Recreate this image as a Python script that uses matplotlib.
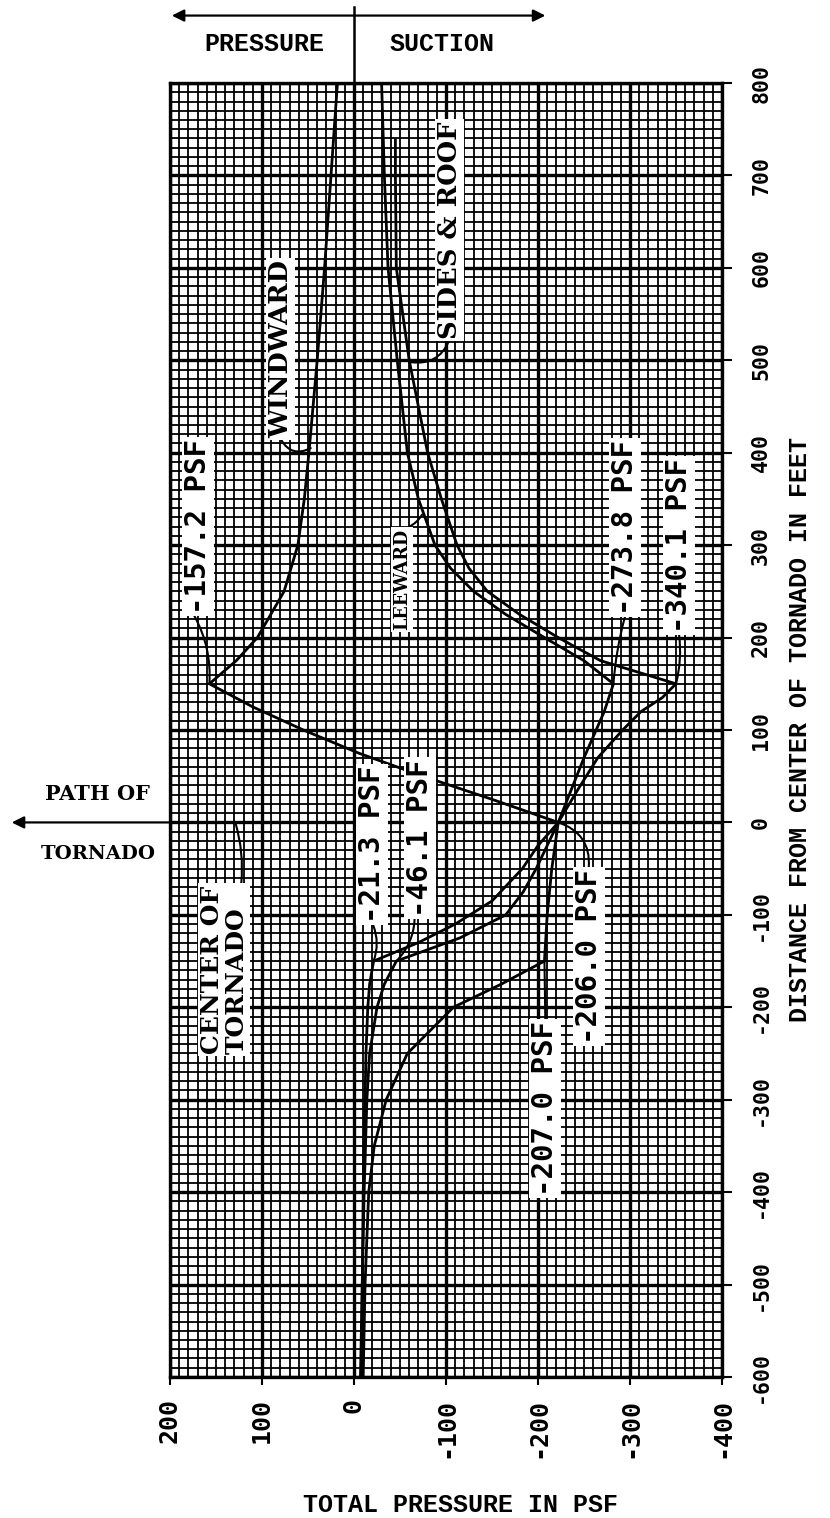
import matplotlib
matplotlib.use("Agg")
import matplotlib.pyplot as plt
from matplotlib.ticker import MultipleLocator

# -----------------------------
#  Curves (distance in ft, total pressure in psf)
# -----------------------------
windward_d = [800, 700, 600, 500, 400, 350, 300, 250, 200, 175, 150, 125, 100,
              75, 50, 25, 0, -50, -100, -150, -175, -200, -250, -300, -350,
              -400, -500, -600]
windward_p = [18, 25, 32, 40, 49, 54, 61, 76, 105, 128, 157.2, 110, 55,
              -5, -75, -150, -222, -215, -210, -207, -160, -108, -58, -35, -22,
              -16, -12, -10]

leeward_d = [800, 700, 600, 500, 400, 350, 300, 275, 250, 225, 200, 175, 150,
             120, 70, 0, -25, -50, -75, -100, -125, -150, -175, -200, -250,
             -300, -400, -500, -600]
leeward_p = [-30, -33, -37, -47, -58, -70, -88, -105, -130, -165, -207, -250, -282,
             -272, -250, -222, -210, -198, -184, -165, -115, -46.1, -33, -25, -17,
             -14, -11, -9, -7]

sides_d = [738, 700, 600, 500, 400, 350, 300, 275, 250, 225, 200, 175, 150,
           135, 120, 100, 70, 35, 0, -25, -50, -85, -110, -130, -150, -175,
           -200, -250, -300, -400, -500, -600]
sides_p = [-45, -45, -46, -60, -80, -95, -112, -125, -145, -180, -222, -268, -350,
           -335, -312, -292, -265, -243, -222, -200, -183, -150, -110, -70, -21.3, -17,
           -15, -13, -12, -10, -9, -8]

x_ticks = [200, 100, 0, -100, -200, -300, -400]
y_ticks = [800, 700, 600, 500, 400, 300, 200, 100, 0, -100, -200, -300, -400, -500, -600]

mono = "DejaVu Sans Mono"
typew = "Liberation Mono"
serif = "DejaVu Serif"

fig = plt.figure(figsize=(8.3, 15.18), dpi=100)
ax = fig.add_axes([0.2048, 0.0929, 0.6651, 0.8524])

ax.set_xlim(200, -400)
ax.set_ylim(-600, 800)

# graph paper
ax.xaxis.set_minor_locator(MultipleLocator(10))
ax.yaxis.set_minor_locator(MultipleLocator(10))
ax.set_xticks(x_ticks)
ax.set_yticks(y_ticks)
ax.grid(which='minor', color='black', lw=1.3)
ax.grid(which='major', color='black', lw=2.4)
ax.set_axisbelow(True)
for s in ax.spines.values():
    s.set_linewidth(2.4)

ax.yaxis.tick_right()
ax.tick_params(which='minor', length=0)
ax.tick_params(axis='x', which='major', direction='out', length=6, width=1.5, pad=9)
ax.tick_params(axis='y', which='major', direction='out', length=7, width=1.5, pad=14)
ax.set_xticklabels([str(v) for v in x_ticks], rotation=90, fontsize=18,
                   family=mono, weight='bold')
ax.set_yticklabels([str(v) for v in y_ticks], rotation=90, fontsize=15.5,
                   family=mono, weight='bold', va='center')

# curves
ax.plot(windward_p, windward_d, color='black', lw=2.0)
ax.plot(leeward_p, leeward_d, color='black', lw=2.0)
ax.plot(sides_p, sides_d, color='black', lw=2.0)

box = dict(facecolor='white', edgecolor='none', pad=1.5)

def label(text, xy, xytext, size, family, rel=(0.5, 0.0), rad=0.0, **kw):
    ax.annotate(text, xy=xy, xytext=xytext, rotation=90, ha='center', va='center',
                fontsize=size, family=family, weight='bold', bbox=box,
                arrowprops=dict(arrowstyle='-', color='black', lw=1.5, relpos=rel,
                                shrinkA=0, shrinkB=0,
                                connectionstyle=f'arc3,rad={rad}'), **kw)

label('WINDWARD', (47, 405), (80, 512), 18.5, serif, rel=(0.5, 0.0), rad=0.5)
label('SIDES & ROOF', (-62, 498), (-104, 641), 18.5, serif, rel=(0.5, 0.0), rad=-0.4)
label('LEEWARD', (-74, 333), (-52, 263), 14, serif, rel=(0.6, 1.0), rad=0.2,
      stretch='condensed')
label('-157.2 PSF', (157.2, 150), (170, 320), 21, mono, rel=(0.35, 0.0), rad=-0.15)
label('-273.8 PSF', (-282, 150), (-295, 319), 21, mono, rel=(0.5, 0.0), rad=0.05)
label('-340.1 PSF', (-350, 150), (-353, 300), 21, mono, rel=(0.5, 0.0), rad=-0.1)
label('-21.3 PSF', (-21.3, -150), (-20, -24), 21, mono, rel=(0.5, 0.0), rad=-0.2)
label('-46.1 PSF', (-46.1, -150), (-72, -17), 21, mono, rel=(0.3, 0.0), rad=-0.2)
label('-206.0 PSF', (-222, 0), (-255, -145), 21, mono, rel=(0.5, 1.0), rad=0.4)
label('-207.0 PSF', (-207, -150), (-208, -310), 21, mono, rel=(0.5, 1.0), rad=0.0)

ax.annotate('CENTER OF\nTORNADO', xy=(129, 0), xytext=(141, -159), rotation=90,
            ha='center', va='center', multialignment='left', fontsize=18,
            family=serif, weight='bold', bbox=box, linespacing=1.0,
            arrowprops=dict(arrowstyle='-', color='black', lw=1.5, relpos=(0.85, 1.0),
                            shrinkA=0, shrinkB=0, connectionstyle='arc3,rad=0.1'))

# pressure / suction marker above the chart
ax.plot([0, 0], [800, 882], color='black', lw=1.8, clip_on=False)
arrow = dict(arrowstyle='-|>', color='black', lw=1.6, mutation_scale=18,
             shrinkA=0, shrinkB=0)
ax.annotate('', xy=(198, 873), xytext=(0, 873), arrowprops=arrow, annotation_clip=False)
ax.annotate('', xy=(-208, 873), xytext=(0, 873), arrowprops=arrow, annotation_clip=False)
ax.text(97, 842, 'PRESSURE', ha='center', va='center', fontsize=18,
        family=typew, weight='bold', clip_on=False)
ax.text(-96, 842, 'SUCTION', ha='center', va='center', fontsize=18,
        family=typew, weight='bold', clip_on=False)

# path of tornado
ax.annotate('', xy=(372, 0), xytext=(200, 0), arrowprops=arrow, annotation_clip=False)
ax.text(279, 31, 'PATH OF', ha='center', va='center', fontsize=15,
        family=serif, weight='bold', clip_on=False)
ax.text(278, -34, 'TORNADO', ha='center', va='center', fontsize=14,
        family=serif, weight='bold', clip_on=False)

fig.text(460 / 830, 1 - 1505 / 1518, 'TOTAL PRESSURE IN PSF', ha='center', va='center',
         fontsize=18, family=typew, weight='bold')
fig.text(800 / 830, 1 - 730 / 1518, 'DISTANCE FROM CENTER OF TORNADO IN FEET',
         rotation=90, ha='center', va='center', fontsize=18, family=typew, weight='bold')

fig.savefig('out.png', dpi=100)
